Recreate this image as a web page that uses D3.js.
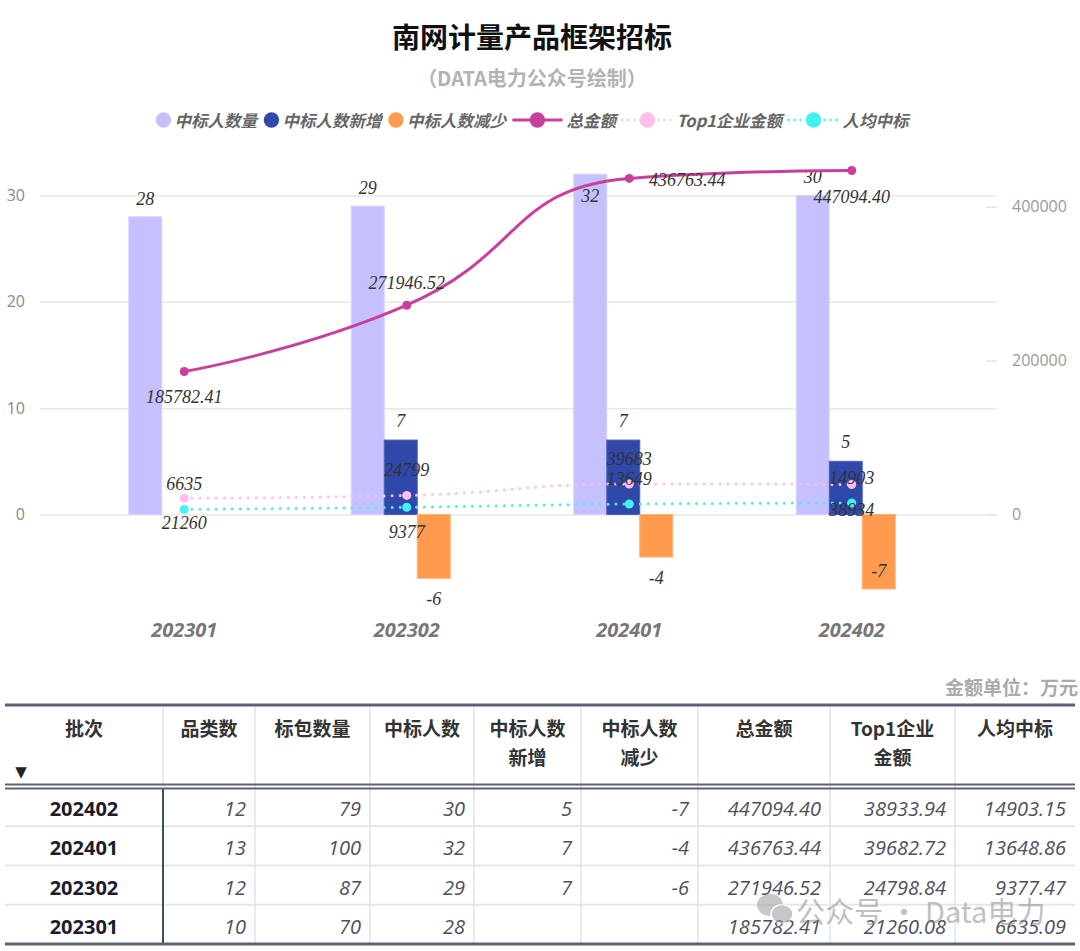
<!DOCTYPE html>
<html>
<head>
<meta charset="utf-8">
<script src="https://cdn.jsdelivr.net/npm/d3@7"></script>
<style>
  body { margin: 0; background: #fff; }
  svg { display: block; }
</style>
</head>
<body>
<svg id="chart" width="1080" height="951"></svg>
<script>
// ---- data ----
const categories = ["202301", "202302", "202401", "202402"];
const winners = [28, 29, 32, 30];            // 中标人数量
const added = [null, 7, 7, 5];               // 中标人数新增
const reduced = [null, -6, -4, -7];          // 中标人数减少
const totalAmount = [185782.41, 271946.52, 436763.44, 447094.40];
const top1Amount = [21260.08, 24798.84, 39682.72, 38933.94];
const avgAmount = [6635.09, 9377.47, 13648.86, 14903.15];
const categoryCount = [10, 12, 13, 12];      // 品类数
const packageCount = [70, 87, 100, 79];      // 标包数量
const leftTicks = [0, 10, 20, 30];
const rightTicks = [0, 200000, 400000];
const legendNames = ["中标人数量", "中标人数新增", "中标人数减少", "总金额", "Top1企业金额", "人均中标"];
const tableHeaders = [["批次"], ["品类数"], ["标包数量"], ["中标人数"], ["中标人数", "新增"], ["中标人数", "减少"], ["总金额"], ["Top1企业", "金额"], ["人均中标"]];

// label placement tweaks (mimic the original overlap layout)
const winnerLabelDy = [-18, -18, 22, -19];
const reducedLabelDy = [0, 21, 21, -18];
const totalLabelShift = [[0, 25], [0, -22], [58, 2], [0, 27]];
const top1LabelDy = [25, -25, -25, 25];
const avgLabelDy = [-25, 25, -25, -25];

const colors = {
  winners: "#c5c1ff", added: "#2f48aa", reduced: "#ff9a4f",
  total: "#c8409a", top1: "#ffbde9", avg: "#45f0f0"
};

const svg = d3.select("#chart");
const serif = "'Liberation Serif', 'Times New Roman', serif";
const sans = "'Open Sans', 'Noto Sans', sans-serif";
const cjk = "'Noto Sans CJK SC', 'Noto Sans', sans-serif";

// title
svg.append("text").attr("x", 532).attr("y", 36).attr("text-anchor", "middle")
  .attr("dominant-baseline", "central")
  .style("font-family", cjk).style("font-size", "28px").style("font-weight", 700).style("fill", "#111")
  .text("南网计量产品框架招标");
svg.append("text").attr("x", 532).attr("y", 77).attr("text-anchor", "middle")
  .attr("dominant-baseline", "central")
  .style("font-family", cjk).style("font-size", "20px").style("font-weight", 700).style("fill", "#b3b3b3")
  .text("（DATA电力公众号绘制）");

// scales
const x = d3.scaleBand().domain(categories).range([73, 963]);
const cx = i => x(categories[i]) + x.bandwidth() / 2;
const yL = d3.scaleLinear().domain([0, 30]).range([514.5, 195.5]);
const yR = d3.scaleLinear().domain([0, 400000]).range([514.5, 206.7]);

// ECharts-like smooth line (control points clamped per segment)
function smoothPath(pts, smooth) {
  const p = d3.path();
  let prevX, prevY, cpx0, cpy0;
  pts.forEach((pt, k) => {
    const [px, py] = pt;
    if (k === 0) { p.moveTo(px, py); cpx0 = px; cpy0 = py; }
    else {
      let cpx1, cpy1, nextCpx0 = px, nextCpy0 = py;
      const nxt = pts[k + 1];
      if (!nxt) { cpx1 = px; cpy1 = py; }
      else {
        let vx = nxt[0] - prevX, vy = nxt[1] - prevY;
        const lenPrev = Math.hypot(px - prevX, py - prevY);
        const lenNext = Math.hypot(nxt[0] - px, nxt[1] - py);
        const r = lenNext / (lenNext + lenPrev);
        nextCpx0 = px + vx * smooth * r; nextCpy0 = py + vy * smooth * r;
        nextCpx0 = Math.max(Math.min(nextCpx0, Math.max(nxt[0], px)), Math.min(nxt[0], px));
        nextCpy0 = Math.max(Math.min(nextCpy0, Math.max(nxt[1], py)), Math.min(nxt[1], py));
        vx = nextCpx0 - px; vy = nextCpy0 - py;
        cpx1 = px - vx * lenPrev / lenNext; cpy1 = py - vy * lenPrev / lenNext;
        cpx1 = Math.max(Math.min(cpx1, Math.max(prevX, px)), Math.min(prevX, px));
        cpy1 = Math.max(Math.min(cpy1, Math.max(prevY, py)), Math.min(prevY, py));
        vx = px - cpx1; vy = py - cpy1;
        nextCpx0 = px + vx * lenNext / lenPrev; nextCpy0 = py + vy * lenNext / lenPrev;
      }
      p.bezierCurveTo(cpx0, cpy0, cpx1, cpy1, px, py);
      cpx0 = nextCpx0; cpy0 = nextCpy0;
    }
    prevX = px; prevY = py;
  });
  return p.toString();
}

// grid + left axis
const gL = svg.append("g").attr("transform", "translate(40,0)")
  .call(d3.axisLeft(yL).tickValues(leftTicks).tickSize(-957).tickPadding(15));
gL.select(".domain").remove();
gL.selectAll(".tick line").attr("stroke", "#e8e8e8").attr("stroke-width", 1.5);
gL.selectAll(".tick text").style("font-family", sans).style("font-size", "16px").style("fill", "#888");

// right axis
const gR = svg.append("g").attr("transform", "translate(986,0)")
  .call(d3.axisRight(yR).tickValues(rightTicks).tickFormat(d3.format("d")).tickSize(11).tickPadding(15));
gR.select(".domain").remove();
gR.selectAll(".tick line").attr("stroke", "#e3e3e3").attr("stroke-width", 1.5);
gR.selectAll(".tick text").style("font-family", sans).style("font-size", "16px").style("fill", "#999");

// x axis labels
const gX = svg.append("g").attr("transform", "translate(0,630)")
  .call(d3.axisBottom(x).tickSize(0).tickPadding(0));
gX.select(".domain").remove();
gX.selectAll(".tick text").attr("y", 0).attr("dy", "0.35em")
  .style("font-family", sans).style("font-size", "20px").style("font-weight", 700)
  .style("font-style", "italic").style("fill", "#777");

// bars
const barW = 33;
const idx = d3.range(categories.length);
const barSeries = [
  { key: "winners", vals: winners, off: -55.5, stroke: "#d6d3ff" },
  { key: "added", vals: added, off: -22.5, stroke: "#4a61bb" },
  { key: "reduced", vals: reduced, off: 10.5, stroke: "#ffb27a" }
];
barSeries.forEach(s => {
  svg.append("g").selectAll("rect")
    .data(idx.filter(i => s.vals[i] != null))
    .join("rect")
    .attr("x", i => cx(i) + s.off)
    .attr("width", barW)
    .attr("y", i => Math.min(yL(s.vals[i]), yL(0)))
    .attr("height", i => Math.abs(yL(s.vals[i]) - yL(0)))
    .attr("fill", colors[s.key])
    .attr("stroke", s.stroke).attr("stroke-width", 1);
});

const labelStyle = sel => sel.attr("text-anchor", "middle").attr("dominant-baseline", "central")
  .style("font-family", serif).style("font-size", "18px").style("font-style", "italic").style("fill", "#333");

// bar labels
svg.append("g").selectAll("text").data(idx).join("text")
  .attr("x", i => cx(i) - 55.5 + barW / 2)
  .attr("y", i => yL(winners[i]) + winnerLabelDy[i])
  .text(i => winners[i]).call(labelStyle);
svg.append("g").selectAll("text").data(idx.filter(i => added[i] != null)).join("text")
  .attr("x", i => cx(i) - 22.5 + barW / 2)
  .attr("y", i => yL(added[i]) - 19)
  .text(i => added[i]).call(labelStyle);
svg.append("g").selectAll("text").data(idx.filter(i => reduced[i] != null)).join("text")
  .attr("x", i => cx(i) + 10.5 + barW / 2)
  .attr("y", i => yL(reduced[i]) + reducedLabelDy[i])
  .text(i => reduced[i]).call(labelStyle);

// lines
const lineSeries = [
  { key: "top1", vals: top1Amount, dotted: true, r: 4.5 },
  { key: "avg", vals: avgAmount, dotted: true, r: 4.5 },
  { key: "total", vals: totalAmount, dotted: false, r: 4.5 }
];
lineSeries.forEach(s => {
  const pts = idx.map(i => [cx(i), yR(s.vals[i])]);
  const path = svg.append("path").attr("d", smoothPath(pts, 0.5))
    .attr("fill", "none").attr("stroke", colors[s.key]);
  if (s.dotted) path.attr("stroke-width", 3).attr("stroke-dasharray", "0 8").attr("stroke-linecap", "round");
  else path.attr("stroke-width", 3);
  svg.append("g").selectAll("circle").data(pts).join("circle")
    .attr("cx", d => d[0]).attr("cy", d => d[1]).attr("r", s.r)
    .attr("fill", colors[s.key]);
});

// line labels
svg.append("g").selectAll("text").data(idx).join("text")
  .attr("x", i => cx(i) + totalLabelShift[i][0])
  .attr("y", i => yR(totalAmount[i]) + totalLabelShift[i][1])
  .text(i => totalAmount[i].toFixed(2)).call(labelStyle);
svg.append("g").selectAll("text").data(idx).join("text")
  .attr("x", i => cx(i))
  .attr("y", i => yR(top1Amount[i]) + top1LabelDy[i])
  .text(i => Math.round(top1Amount[i])).call(labelStyle);
svg.append("g").selectAll("text").data(idx).join("text")
  .attr("x", i => cx(i))
  .attr("y", i => yR(avgAmount[i]) + avgLabelDy[i])
  .text(i => Math.round(avgAmount[i])).call(labelStyle);

// legend
const legendKinds = ["circle", "circle", "circle", "line", "dotted", "dotted"];
const legendColors = [colors.winners, colors.added, colors.reduced, colors.total, colors.top1, colors.avg];
const legend = svg.append("g");
let lx = 0;
legendNames.forEach((name, i) => {
  const g = legend.append("g").attr("transform", `translate(${lx},120)`);
  let tx;
  if (legendKinds[i] === "circle") {
    g.append("circle").attr("cx", 8).attr("cy", 0).attr("r", 7.7).attr("fill", legendColors[i]);
    tx = 19;
  } else {
    const ln = g.append("line").attr("x1", 0).attr("x2", 50).attr("y1", 0).attr("y2", 0)
      .attr("stroke", legendColors[i]).attr("stroke-width", 3);
    if (legendKinds[i] === "dotted") ln.attr("stroke-dasharray", "0 6").attr("stroke-linecap", "round").attr("stroke-width", 2.5);
    g.append("circle").attr("cx", 25).attr("cy", 0).attr("r", 7.7).attr("fill", legendColors[i]);
    tx = 54;
  }
  const t = g.append("text").attr("x", tx).attr("y", 0).attr("dominant-baseline", "central")
    .style("font-family", cjk).style("font-size", "16.5px").style("font-weight", 700)
    .style("font-style", "italic").style("fill", "#666").text(name);
  lx += tx + t.node().getComputedTextLength() + 6.5;
});
legend.attr("transform", `translate(${532 - (lx - 6.5) / 2},0)`);

// unit note
svg.append("text").attr("x", 1078).attr("y", 686).attr("text-anchor", "end").attr("dominant-baseline", "central")
  .style("font-family", cjk).style("font-size", "19px").style("font-weight", 700).style("fill", "#aaa")
  .text("金额单位：万元");

// ---- table ----
const colEdges = [5, 163, 255, 370, 474, 581, 698, 830, 955, 1075];
const rowOrder = [3, 2, 1, 0];
const rowY = d3.scaleBand().domain(rowOrder).range([787, 944]);
const table = svg.append("g");

// light grid lines
table.append("g").selectAll("line").data(rowOrder.slice(1)).join("line")
  .attr("x1", 5).attr("x2", 1075)
  .attr("y1", r => rowY(r)).attr("y2", r => rowY(r))
  .attr("stroke", "#e6e6ea").attr("stroke-width", 2);
table.append("g").selectAll("line").data(colEdges.slice(1, -1)).join("line")
  .attr("x1", d => d).attr("x2", d => d).attr("y1", 705).attr("y2", 944)
  .attr("stroke", d => d === 163 ? "none" : "#e3e3e8").attr("stroke-width", 1.5);
table.append("line").attr("x1", 163).attr("x2", 163).attr("y1", 705).attr("y2", 786)
  .attr("stroke", "#e3e3e8").attr("stroke-width", 1.5);
table.append("line").attr("x1", 163).attr("x2", 163).attr("y1", 788).attr("y2", 944)
  .attr("stroke", "#454c5e").attr("stroke-width", 2);

// heavy borders
[[705, 3], [784.5, 2], [788.5, 2], [944, 3]].forEach(([yy, w]) => {
  table.append("line").attr("x1", 5).attr("x2", 1075).attr("y1", yy).attr("y2", yy)
    .attr("stroke", "#5b6274").attr("stroke-width", w);
});

// header text
tableHeaders.forEach((lines, c) => {
  const mid = (colEdges[c] + colEdges[c + 1]) / 2;
  lines.forEach((ln, k) => {
    table.append("text").attr("x", mid).attr("y", 727 + k * 29)
      .attr("text-anchor", "middle").attr("dominant-baseline", "central")
      .style("font-family", cjk).style("font-size", "19px").style("font-weight", 700).style("fill", "#333")
      .text(ln);
  });
});
table.append("text").attr("x", 21).attr("y", 772).attr("text-anchor", "middle")
  .attr("dominant-baseline", "central").style("font-family", "'DejaVu Sans', sans-serif")
  .style("font-size", "15px").style("fill", "#222").text("▼");

// body cells
const fmt2 = v => v == null ? "" : v.toFixed(2);
const cellValues = i => [categories[i], categoryCount[i], packageCount[i], winners[i],
  added[i] ?? "", reduced[i] ?? "", fmt2(totalAmount[i]), fmt2(top1Amount[i]), fmt2(avgAmount[i])];
rowOrder.forEach(i => {
  const yy = rowY(i) + rowY.bandwidth() / 2 + 2;
  cellValues(i).forEach((v, c) => {
    const t = table.append("text").attr("y", yy).attr("dominant-baseline", "central").text(v)
      .style("font-family", sans).style("font-size", "20px");
    if (c === 0) {
      t.attr("x", (colEdges[0] + colEdges[1]) / 2).attr("text-anchor", "middle")
        .style("font-weight", 700).style("fill", "#1b1b2b");
    } else {
      t.attr("x", colEdges[c + 1] - 9).attr("text-anchor", "end")
        .style("font-style", "italic").style("fill", "#4d4f5e");
    }
  });
});

// watermark
const wm = svg.append("g").attr("opacity", 0.55);
wm.append("ellipse").attr("cx", 770).attr("cy", 905).attr("rx", 13).attr("ry", 11).attr("fill", "#9a9a9a");
wm.append("ellipse").attr("cx", 782).attr("cy", 914).attr("rx", 11).attr("ry", 9.5).attr("fill", "#9a9a9a")
  .attr("stroke", "#fff").attr("stroke-width", 1.5);
wm.append("text").attr("x", 796).attr("y", 910).attr("dominant-baseline", "central")
  .style("font-family", cjk).style("font-size", "29px").style("fill", "#8e8e8e")
  .text("公众号 · Data电力");
</script>
</body>
</html>
